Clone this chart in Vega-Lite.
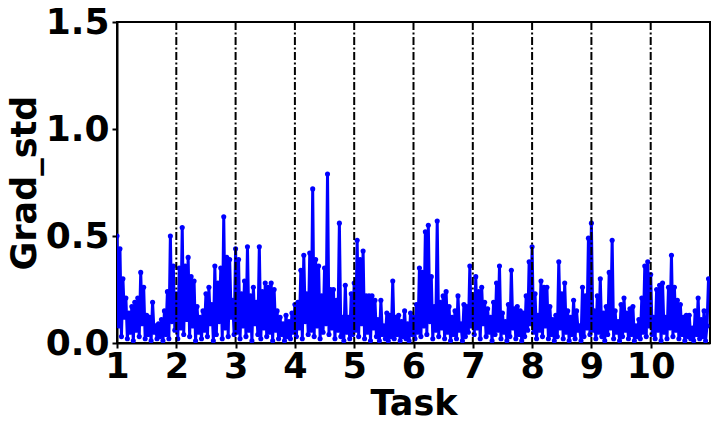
{
"$schema": "https://vega.github.io/schema/vega-lite/v6.json",
"width": 593, "height": 321,
"autosize": {"type": "none"},
"padding": {"left": 117, "top": 22, "right": 10, "bottom": 89},
"background": "white",
"config": {"view": {"stroke": "black", "strokeWidth": 2}, "font": "DejaVu Sans"},
"datasets": {
"tasks": [{"t":40},{"t":80},{"t":120},{"t":160},{"t":200},{"t":240},{"t":280},{"t":320},{"t":360}],
"grad": [
{"t":0,"y":0.50},{"t":1,"y":0.08},{"t":2,"y":0.44},{"t":3,"y":0.03},{"t":4,"y":0.30},{"t":5,"y":0.12},{"t":6,"y":0.21},{"t":7,"y":0.02},{"t":8,"y":0.14},{"t":9,"y":0.05},
{"t":10,"y":0.17},{"t":11,"y":0.01},{"t":12,"y":0.19},{"t":13,"y":0.06},{"t":14,"y":0.21},{"t":15,"y":0.03},{"t":16,"y":0.33},{"t":17,"y":0.09},{"t":18,"y":0.26},{"t":19,"y":0.02},
{"t":20,"y":0.13},{"t":21,"y":0.04},{"t":22,"y":0.12},{"t":23,"y":0.01},{"t":24,"y":0.19},{"t":25,"y":0.05},{"t":26,"y":0.08},{"t":27,"y":0.02},{"t":28,"y":0.09},{"t":29,"y":0.03},
{"t":30,"y":0.11},{"t":31,"y":0.01},{"t":32,"y":0.15},{"t":33,"y":0.04},{"t":34,"y":0.24},{"t":35,"y":0.02},{"t":36,"y":0.50},{"t":37,"y":0.10},{"t":38,"y":0.36},{"t":39,"y":0.06},
{"t":40,"y":0.23},{"t":41,"y":0.02},{"t":42,"y":0.35},{"t":43,"y":0.07},{"t":44,"y":0.54},{"t":45,"y":0.04},{"t":46,"y":0.36},{"t":47,"y":0.11},{"t":48,"y":0.40},{"t":49,"y":0.03},
{"t":50,"y":0.31},{"t":51,"y":0.08},{"t":52,"y":0.29},{"t":53,"y":0.01},{"t":54,"y":0.17},{"t":55,"y":0.05},{"t":56,"y":0.12},{"t":57,"y":0.02},{"t":58,"y":0.15},{"t":59,"y":0.06},
{"t":60,"y":0.23},{"t":61,"y":0.03},{"t":62,"y":0.26},{"t":63,"y":0.09},{"t":64,"y":0.18},{"t":65,"y":0.01},{"t":66,"y":0.36},{"t":67,"y":0.04},{"t":68,"y":0.28},{"t":69,"y":0.10},
{"t":70,"y":0.35},{"t":71,"y":0.02},{"t":72,"y":0.59},{"t":73,"y":0.07},{"t":74,"y":0.40},{"t":75,"y":0.03},{"t":76,"y":0.39},{"t":77,"y":0.12},{"t":78,"y":0.20},{"t":79,"y":0.04},
{"t":80,"y":0.44},{"t":81,"y":0.05},{"t":82,"y":0.39},{"t":83,"y":0.02},{"t":84,"y":0.23},{"t":85,"y":0.08},{"t":86,"y":0.29},{"t":87,"y":0.03},{"t":88,"y":0.45},{"t":89,"y":0.06},
{"t":90,"y":0.22},{"t":91,"y":0.01},{"t":92,"y":0.26},{"t":93,"y":0.09},{"t":94,"y":0.19},{"t":95,"y":0.04},{"t":96,"y":0.45},{"t":97,"y":0.02},{"t":98,"y":0.24},{"t":99,"y":0.07},
{"t":100,"y":0.28},{"t":101,"y":0.03},{"t":102,"y":0.26},{"t":103,"y":0.05},{"t":104,"y":0.28},{"t":105,"y":0.01},{"t":106,"y":0.25},{"t":107,"y":0.06},{"t":108,"y":0.15},{"t":109,"y":0.02},
{"t":110,"y":0.12},{"t":111,"y":0.04},{"t":112,"y":0.09},{"t":113,"y":0.01},{"t":114,"y":0.13},{"t":115,"y":0.03},{"t":116,"y":0.10},{"t":117,"y":0.02},{"t":118,"y":0.14},{"t":119,"y":0.05},
{"t":120,"y":0.18},{"t":121,"y":0.03},{"t":122,"y":0.19},{"t":123,"y":0.07},{"t":124,"y":0.34},{"t":125,"y":0.02},{"t":126,"y":0.41},{"t":127,"y":0.10},{"t":128,"y":0.23},{"t":129,"y":0.04},
{"t":130,"y":0.42},{"t":131,"y":0.06},{"t":132,"y":0.72},{"t":133,"y":0.03},{"t":134,"y":0.39},{"t":135,"y":0.08},{"t":136,"y":0.36},{"t":137,"y":0.02},{"t":138,"y":0.22},{"t":139,"y":0.05},
{"t":140,"y":0.35},{"t":141,"y":0.09},{"t":142,"y":0.79},{"t":143,"y":0.04},{"t":144,"y":0.25},{"t":145,"y":0.07},{"t":146,"y":0.25},{"t":147,"y":0.02},{"t":148,"y":0.20},{"t":149,"y":0.06},
{"t":150,"y":0.56},{"t":151,"y":0.03},{"t":152,"y":0.12},{"t":153,"y":0.01},{"t":154,"y":0.27},{"t":155,"y":0.05},{"t":156,"y":0.12},{"t":157,"y":0.02},{"t":158,"y":0.23},{"t":159,"y":0.04},
{"t":160,"y":0.28},{"t":161,"y":0.06},{"t":162,"y":0.48},{"t":163,"y":0.03},{"t":164,"y":0.39},{"t":165,"y":0.09},{"t":166,"y":0.43},{"t":167,"y":0.02},{"t":168,"y":0.22},{"t":169,"y":0.05},
{"t":170,"y":0.22},{"t":171,"y":0.01},{"t":172,"y":0.22},{"t":173,"y":0.07},{"t":174,"y":0.20},{"t":175,"y":0.03},{"t":176,"y":0.11},{"t":177,"y":0.01},{"t":178,"y":0.20},{"t":179,"y":0.04},
{"t":180,"y":0.08},{"t":181,"y":0.02},{"t":182,"y":0.14},{"t":183,"y":0.01},{"t":184,"y":0.13},{"t":185,"y":0.03},{"t":186,"y":0.29},{"t":187,"y":0.02},{"t":188,"y":0.12},{"t":189,"y":0.04},
{"t":190,"y":0.13},{"t":191,"y":0.01},{"t":192,"y":0.10},{"t":193,"y":0.03},{"t":194,"y":0.15},{"t":195,"y":0.02},{"t":196,"y":0.09},{"t":197,"y":0.01},{"t":198,"y":0.14},{"t":199,"y":0.04},
{"t":200,"y":0.12},{"t":201,"y":0.02},{"t":202,"y":0.18},{"t":203,"y":0.05},{"t":204,"y":0.35},{"t":205,"y":0.03},{"t":206,"y":0.33},{"t":207,"y":0.08},{"t":208,"y":0.52},{"t":209,"y":0.04},
{"t":210,"y":0.55},{"t":211,"y":0.10},{"t":212,"y":0.31},{"t":213,"y":0.02},{"t":214,"y":0.17},{"t":215,"y":0.06},{"t":216,"y":0.57},{"t":217,"y":0.03},{"t":218,"y":0.19},{"t":219,"y":0.07},
{"t":220,"y":0.22},{"t":221,"y":0.02},{"t":222,"y":0.24},{"t":223,"y":0.05},{"t":224,"y":0.17},{"t":225,"y":0.01},{"t":226,"y":0.12},{"t":227,"y":0.04},{"t":228,"y":0.15},{"t":229,"y":0.02},
{"t":230,"y":0.22},{"t":231,"y":0.06},{"t":232,"y":0.09},{"t":233,"y":0.01},{"t":234,"y":0.18},{"t":235,"y":0.03},{"t":236,"y":0.17},{"t":237,"y":0.05},{"t":238,"y":0.36},{"t":239,"y":0.08},
{"t":240,"y":0.22},{"t":241,"y":0.04},{"t":242,"y":0.31},{"t":243,"y":0.07},{"t":244,"y":0.24},{"t":245,"y":0.02},{"t":246,"y":0.26},{"t":247,"y":0.09},{"t":248,"y":0.19},{"t":249,"y":0.03},
{"t":250,"y":0.16},{"t":251,"y":0.05},{"t":252,"y":0.12},{"t":253,"y":0.01},{"t":254,"y":0.19},{"t":255,"y":0.04},{"t":256,"y":0.28},{"t":257,"y":0.06},{"t":258,"y":0.36},{"t":259,"y":0.02},
{"t":260,"y":0.14},{"t":261,"y":0.05},{"t":262,"y":0.10},{"t":263,"y":0.01},{"t":264,"y":0.18},{"t":265,"y":0.03},{"t":266,"y":0.34},{"t":267,"y":0.07},{"t":268,"y":0.16},{"t":269,"y":0.02},
{"t":270,"y":0.17},{"t":271,"y":0.04},{"t":272,"y":0.15},{"t":273,"y":0.01},{"t":274,"y":0.14},{"t":275,"y":0.03},{"t":276,"y":0.22},{"t":277,"y":0.06},{"t":278,"y":0.38},{"t":279,"y":0.09},
{"t":280,"y":0.45},{"t":281,"y":0.05},{"t":282,"y":0.23},{"t":283,"y":0.02},{"t":284,"y":0.13},{"t":285,"y":0.06},{"t":286,"y":0.29},{"t":287,"y":0.03},{"t":288,"y":0.26},{"t":289,"y":0.08},
{"t":290,"y":0.26},{"t":291,"y":0.02},{"t":292,"y":0.17},{"t":293,"y":0.04},{"t":294,"y":0.11},{"t":295,"y":0.01},{"t":296,"y":0.13},{"t":297,"y":0.03},{"t":298,"y":0.38},{"t":299,"y":0.07},
{"t":300,"y":0.23},{"t":301,"y":0.02},{"t":302,"y":0.28},{"t":303,"y":0.05},{"t":304,"y":0.15},{"t":305,"y":0.01},{"t":306,"y":0.12},{"t":307,"y":0.04},{"t":308,"y":0.20},{"t":309,"y":0.02},
{"t":310,"y":0.15},{"t":311,"y":0.06},{"t":312,"y":0.08},{"t":313,"y":0.01},{"t":314,"y":0.26},{"t":315,"y":0.03},{"t":316,"y":0.22},{"t":317,"y":0.07},{"t":318,"y":0.49},{"t":319,"y":0.04},
{"t":320,"y":0.56},{"t":321,"y":0.06},{"t":322,"y":0.15},{"t":323,"y":0.02},{"t":324,"y":0.22},{"t":325,"y":0.05},{"t":326,"y":0.30},{"t":327,"y":0.03},{"t":328,"y":0.14},{"t":329,"y":0.01},
{"t":330,"y":0.17},{"t":331,"y":0.04},{"t":332,"y":0.33},{"t":333,"y":0.07},{"t":334,"y":0.48},{"t":335,"y":0.02},{"t":336,"y":0.15},{"t":337,"y":0.05},{"t":338,"y":0.10},{"t":339,"y":0.01},
{"t":340,"y":0.18},{"t":341,"y":0.03},{"t":342,"y":0.21},{"t":343,"y":0.06},{"t":344,"y":0.14},{"t":345,"y":0.02},{"t":346,"y":0.16},{"t":347,"y":0.04},{"t":348,"y":0.17},{"t":349,"y":0.01},
{"t":350,"y":0.08},{"t":351,"y":0.03},{"t":352,"y":0.11},{"t":353,"y":0.02},{"t":354,"y":0.21},{"t":355,"y":0.05},{"t":356,"y":0.36},{"t":357,"y":0.03},{"t":358,"y":0.38},{"t":359,"y":0.08},
{"t":360,"y":0.32},{"t":361,"y":0.04},{"t":362,"y":0.12},{"t":363,"y":0.02},{"t":364,"y":0.25},{"t":365,"y":0.06},{"t":366,"y":0.27},{"t":367,"y":0.01},{"t":368,"y":0.28},{"t":369,"y":0.05},
{"t":370,"y":0.12},{"t":371,"y":0.02},{"t":372,"y":0.26},{"t":373,"y":0.07},{"t":374,"y":0.41},{"t":375,"y":0.03},{"t":376,"y":0.26},{"t":377,"y":0.06},{"t":378,"y":0.20},{"t":379,"y":0.02},
{"t":380,"y":0.18},{"t":381,"y":0.04},{"t":382,"y":0.12},{"t":383,"y":0.01},{"t":384,"y":0.13},{"t":385,"y":0.03},{"t":386,"y":0.13},{"t":387,"y":0.02},{"t":388,"y":0.07},{"t":389,"y":0.01},
{"t":390,"y":0.15},{"t":391,"y":0.04},{"t":392,"y":0.21},{"t":393,"y":0.02},{"t":394,"y":0.11},{"t":395,"y":0.03},{"t":396,"y":0.15},{"t":397,"y":0.01},{"t":398,"y":0.08},{"t":399,"y":0.30}
]
},
"layer": [
{
"data": {"name": "grad"},
"mark": {"type": "line", "color": "#0000ff", "strokeWidth": 3, "clip": true, "point": {"filled": true, "size": 26, "color": "#0000ff"}},
"encoding": {
"x": {"field": "t", "type": "quantitative", "scale": {"domain": [0, 400], "nice": false, "zero": false},
"axis": {"title": "Task", "values": [0,40,80,120,160,200,240,280,320,360], "labelExpr": "datum.value / 40 + 1",
"labelFlush": false, "labelOverlap": false, "grid": false,
"labelFont": "DejaVu Sans", "labelFontSize": 35, "labelFontWeight": "bold", "labelColor": "black", "labelPadding": 1,
"titleFont": "DejaVu Sans", "titleFontSize": 35, "titleFontWeight": "bold", "titleColor": "black", "titlePadding": 2,
"domainColor": "black", "domainWidth": 2, "tickColor": "black", "tickWidth": 2, "tickSize": 5}},
"y": {"field": "y", "type": "quantitative", "scale": {"domain": [0, 1.5], "nice": false},
"axis": {"title": "Grad_std", "values": [0, 0.5, 1, 1.5], "format": ".1f", "grid": false,
"labelFont": "DejaVu Sans", "labelFontSize": 36, "labelFontWeight": "bold", "labelColor": "black", "labelPadding": 3,
"titleFont": "DejaVu Sans", "titleFontSize": 35, "titleFontWeight": "bold", "titleColor": "black", "titlePadding": 3,
"domainColor": "black", "domainWidth": 2, "tickColor": "black", "tickWidth": 2, "tickSize": 5}}
}
},
{
"data": {"name": "tasks"},
"mark": {"type": "rule", "color": "black", "strokeWidth": 2, "strokeDash": [8, 2.5, 2, 2.5]},
"encoding": {"x": {"field": "t", "type": "quantitative"}}
}
]
}
